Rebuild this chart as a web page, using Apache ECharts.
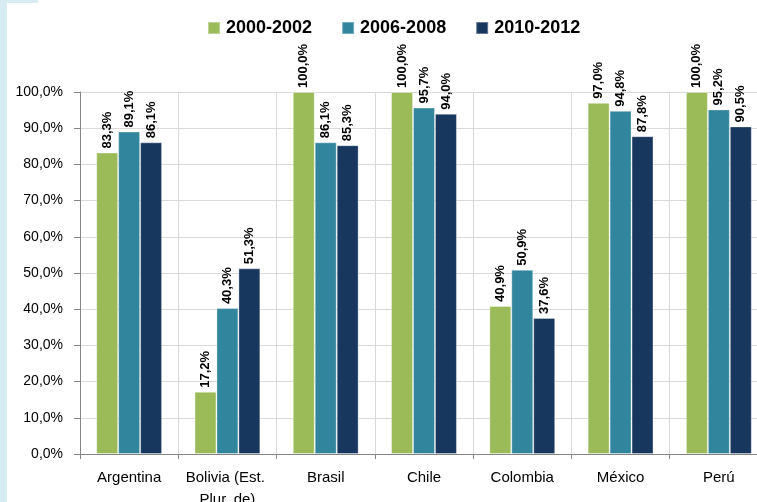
<!DOCTYPE html>
<html lang="es">
<head>
    <meta charset="UTF-8">
    <script src="https://cdn.jsdelivr.net/npm/echarts@6/dist/echarts.min.js"></script>
    <title>Chart</title>
    <style>
        html, body { margin: 0; padding: 0; background: #fff; }
        #main { width: 757px; height: 502px; }
    </style>
</head>
<body>
<div id="main"></div>
<script>
    // datos
    var paises = ['Argentina', 'Bolivia (Est. Plur. de)', 'Brasil', 'Chile', 'Colombia', 'México', 'Perú'];
    var periodos = ['2000-2002', '2006-2008', '2010-2012'];
    var v2000 = [83.3, 17.2, 100.0, 100.0, 40.9, 97.0, 100.0];
    var v2006 = [89.1, 40.3, 86.1, 95.7, 50.9, 94.8, 95.2];
    var v2010 = [86.1, 51.3, 85.3, 94.0, 37.6, 87.8, 90.5];
    var colores = ['#9BBB59', '#31859C', '#17375E'];

    var chart = echarts.init(document.getElementById('main'));

    function pct(v) {
        return v.toFixed(1).replace('.', ',') + '%';
    }

    function serie(nombre, datos, color) {
        return {
            name: nombre,
            type: 'bar',
            data: datos,
            barGap: 0,
            barCategoryGap: '33%',
            itemStyle: {
                color: color,
                borderColor: 'rgba(255,255,255,0.35)',
                borderWidth: 1
            },
            label: {
                show: true,
                position: 'top',
                rotate: 90,
                align: 'left',
                verticalAlign: 'middle',
                distance: 4,
                color: '#000',
                fontWeight: 'bold',
                fontSize: 13,
                fontFamily: 'Liberation Sans, Arial, sans-serif',
                formatter: function (p) { return pct(p.value); }
            }
        };
    }

    var option = {
        animation: false,
        backgroundColor: '#fff',
        textStyle: { fontFamily: 'Liberation Sans, Arial, sans-serif' },
        graphic: [
            { type: 'rect', left: 0, top: 0, shape: { width: 7, height: 502 }, style: { fill: '#d7ebf3' } },
            { type: 'rect', left: 0, top: 0, shape: { width: 38, height: 3 }, style: { fill: '#d7ebf3' } }
        ],
        legend: {
            data: periodos,
            top: 19,
            left: 207,
            padding: 0,
            itemWidth: 12,
            itemHeight: 12,
            itemGap: 29,
            icon: 'rect',
            textStyle: { fontSize: 18, fontWeight: 'bold', color: '#000', padding: [0, 0, 0, 1] }
        },
        grid: { left: 80, top: 92, bottom: 48, right: -11, outerBoundsMode: 'none', containLabel: false },
        xAxis: {
            type: 'category',
            data: paises,
            axisLine: { lineStyle: { color: '#868686' } },
            axisTick: { show: true, length: 5, lineStyle: { color: '#868686' } },
            axisLabel: {
                color: '#000',
                fontSize: 15,
                margin: 13,
                lineHeight: 22,
                width: 90,
                overflow: 'break',
                interval: 0
            },
            splitLine: { show: true, lineStyle: { color: '#d9d9d9' } }
        },
        yAxis: {
            type: 'value',
            min: 0,
            max: 100,
            interval: 10,
            axisLine: { show: true, lineStyle: { color: '#868686' } },
            axisTick: { show: true, length: 6, lineStyle: { color: '#868686' } },
            axisLabel: {
                color: '#000',
                fontSize: 14,
                margin: 17,
                formatter: function (v) { return pct(v); }
            },
            splitLine: { show: true, lineStyle: { color: '#d9d9d9' } }
        },
        series: [
            serie(periodos[0], v2000, colores[0]),
            serie(periodos[1], v2006, colores[1]),
            serie(periodos[2], v2010, colores[2])
        ]
    };
    chart.setOption(option);
</script>
</body>
</html>
